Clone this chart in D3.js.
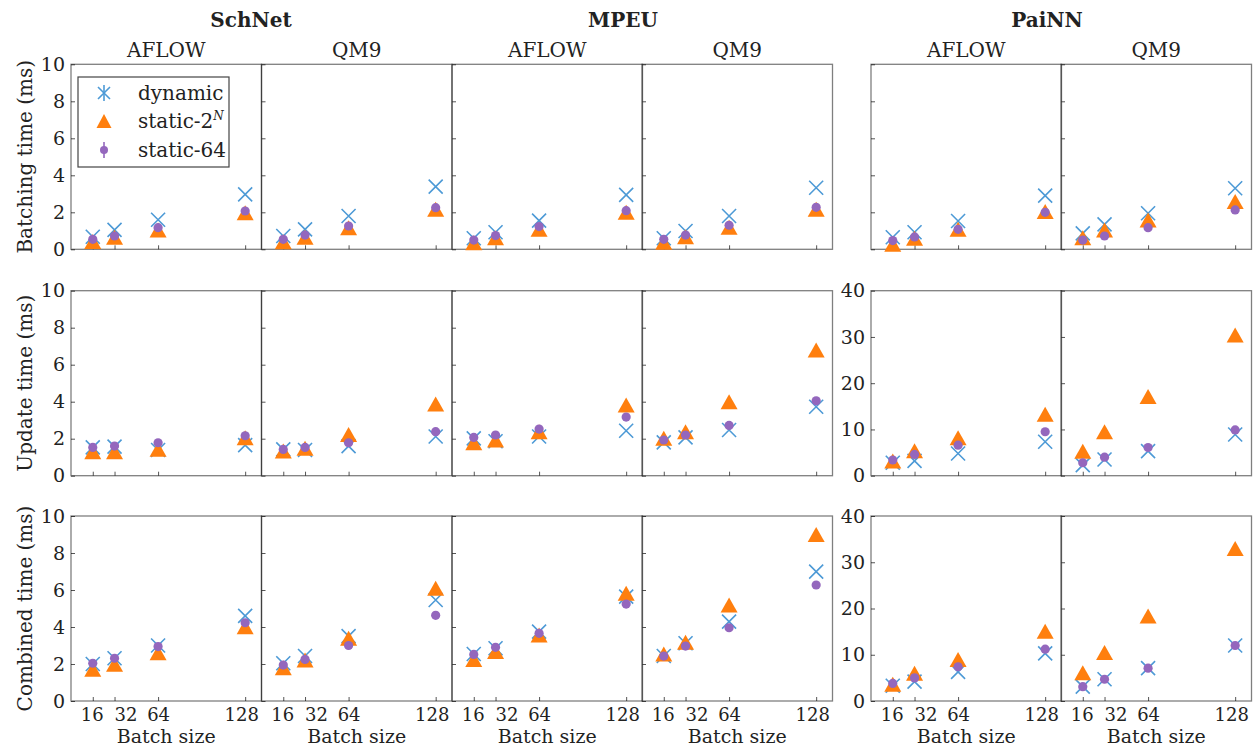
<!DOCTYPE html>
<html>
<head>
<meta charset="utf-8">
<script src="https://cdn.jsdelivr.net/npm/d3@7"></script>
<style>
  body { margin: 0; background: #fff; }
  svg text { font-family: "DejaVu Serif", serif; fill: #222; }
</style>
</head>
<body>
<div id="chart"></div>
<script>
// ---- data (panels in order: SchNet AFLOW, SchNet QM9, MPEU AFLOW, MPEU QM9, PaiNN AFLOW, PaiNN QM9)
const batchSizes = [16, 32, 64, 128];
const models = ["SchNet", "MPEU", "PaiNN"];
const datasets = ["AFLOW", "QM9"];
const rowLabels = ["Batching time (ms)", "Update time (ms)", "Combined time (ms)"];
const seriesNames = ["dynamic", "static-2N", "static-64"];

const batchingDynamic = [[0.68, 1.05, 1.6, 2.97], [0.72, 1.08, 1.8, 3.39], [0.6, 0.92, 1.55, 2.94], [0.6, 0.99, 1.8, 3.33], [0.65, 0.92, 1.53, 2.9], [0.86, 1.35, 1.95, 3.3]];
const batchingStatic2N = [[0.42, 0.65, 1.05, 1.98], [0.41, 0.65, 1.17, 2.16], [0.36, 0.63, 1.08, 2.0], [0.38, 0.68, 1.19, 2.16], [0.27, 0.6, 1.08, 2.04], [0.63, 1.05, 1.59, 2.58]];
const batchingStatic64 = [[0.54, 0.72, 1.17, 2.07], [0.54, 0.77, 1.26, 2.25], [0.5, 0.74, 1.23, 2.09], [0.54, 0.77, 1.3, 2.27], [0.47, 0.67, 1.08, 2.0], [0.5, 0.72, 1.17, 2.13]];

const updateDynamic = [[1.53, 1.57, 1.39, 1.65], [1.42, 1.39, 1.6, 2.12], [2.02, 1.86, 2.12, 2.43], [1.8, 2.07, 2.47, 3.73], [2.8, 3.2, 4.8, 7.35], [2.3, 3.5, 5.3, 8.9]];
const updateStatic2N = [[1.3, 1.3, 1.43, 2.05], [1.33, 1.48, 2.23, 3.87], [1.78, 1.93, 2.38, 3.82], [2.02, 2.38, 4.0, 6.79], [3.2, 5.4, 8.2, 13.3], [5.3, 9.5, 17.1, 30.4]];
const updateStatic64 = [[1.53, 1.6, 1.78, 2.16], [1.42, 1.53, 1.78, 2.38], [2.07, 2.2, 2.52, 3.17], [1.93, 2.2, 2.72, 4.05], [3.4, 4.6, 6.6, 9.5], [2.8, 4.0, 6.1, 9.9]];

const combinedDynamic = [[2.0, 2.31, 3.0, 4.6], [2.04, 2.43, 3.51, 5.46], [2.54, 2.85, 3.75, 5.64], [2.43, 3.12, 4.29, 6.99], [3.3, 4.2, 6.3, 10.3], [3.1, 4.7, 7.1, 12.0]];
const combinedStatic2N = [[1.71, 1.98, 2.61, 4.02], [1.8, 2.22, 3.39, 6.09], [2.25, 2.67, 3.57, 5.82], [2.54, 3.17, 5.19, 9.0], [3.6, 6.0, 9.0, 15.1], [6.1, 10.5, 18.4, 33.0]];
const combinedStatic64 = [[2.04, 2.31, 2.94, 4.23], [1.94, 2.25, 3.0, 4.63], [2.52, 2.9, 3.66, 5.24], [2.43, 2.97, 3.96, 6.27], [3.8, 5.0, 7.4, 11.2], [3.1, 4.7, 7.1, 12.0]];

const rowData = [
  [batchingDynamic, batchingStatic2N, batchingStatic64],
  [updateDynamic, updateStatic2N, updateStatic64],
  [combinedDynamic, combinedStatic2N, combinedStatic64]
];
const smallTicks = [0, 2, 4, 6, 8, 10];
const bigTicks = [0, 10, 20, 30, 40];

// ---- layout
const W = 1256, H = 748;
const colLeft = [71, 261.5, 452, 642, 871, 1061];
const panelW = 190.5;
const rowTop = [64.3, 290.7, 516];
const panelH = 185;
const fs = 20;      // labels, titles, legend
const tickFs = 19;  // y tick labels
const xTickFs = 18; // x tick labels
const colors = { dynamic: "#4d9ad6", tri: "#ff7f0e", circ: "#9467bd" };
const labelShift = { 16: -1, 32: 11, 64: 0, 128: -4 };

const svg = d3.select("#chart").append("svg")
  .attr("width", W)
  .attr("height", H);

const x = d3.scaleLinear().domain([0, 140]).range([0, panelW]);

function trianglePath(w, h) {
  return "M0," + (-h / 2) + "L" + (w / 2) + "," + (h / 2) + "L" + (-w / 2) + "," + (h / 2) + "Z";
}

function drawX(g, cx, cy, r) {
  g.append("path")
    .attr("d", "M" + (cx - r) + "," + (cy - r) + "L" + (cx + r) + "," + (cy + r) + "M" + (cx - r) + "," + (cy + r) + "L" + (cx + r) + "," + (cy - r))
    .attr("stroke", colors.dynamic)
    .attr("stroke-width", 1.6)
    .attr("fill", "none");
}

// ---- panels
rowData.forEach(function(series, r) {
  colLeft.forEach(function(left, c) {
    const big = c >= 4 && r > 0;
    const y = d3.scaleLinear().domain([0, big ? 40 : 10]).range([panelH, 0]);
    const showY = c === 0 || (c === 4 && big);
    const g = svg.append("g").attr("transform", "translate(" + left + "," + rowTop[r] + ")");

    // y axis, ticks point inward
    const ya = g.append("g")
      .call(d3.axisLeft(y)
        .tickValues(big ? bigTicks : smallTicks)
        .tickSizeInner(-4)
        .tickSizeOuter(0)
        .tickPadding(6)
        .tickFormat(showY ? d3.format("d") : ""));
    ya.select(".domain").remove();
    ya.selectAll("line").attr("stroke", "#555");
    ya.selectAll("text").attr("font-size", tickFs).attr("fill", "#222").attr("font-family", "DejaVu Serif");

    const xa = g.append("g")
      .attr("transform", "translate(0," + panelH + ")")
      .call(d3.axisBottom(x)
        .tickValues(batchSizes)
        .tickSizeInner(-4)
        .tickSizeOuter(0)
        .tickPadding(7)
        .tickFormat(r === 2 ? d3.format("d") : ""));
    xa.select(".domain").remove();
    xa.selectAll("line").attr("stroke", "#555");
    xa.selectAll("text")
      .attr("font-size", xTickFs).attr("fill", "#222").attr("font-family", "DejaVu Serif")
      .attr("dx", function(d) { return labelShift[d]; });

    // frame
    g.append("rect")
      .attr("width", panelW)
      .attr("height", panelH)
      .attr("fill", "none")
      .attr("stroke", "rgba(0,0,0,0.5)")
      .attr("stroke-width", 1.3);

    // markers
    const dyn = series[0][c], tri = series[1][c], circ = series[2][c];
    batchSizes.forEach(function(b, i) {
      drawX(g, x(b), y(dyn[i]), 7);
    });
    g.selectAll(".tri").data(tri).enter().append("path")
      .attr("d", trianglePath(17, 15))
      .attr("transform", function(d, i) { return "translate(" + x(batchSizes[i]) + "," + y(d) + ")"; })
      .attr("fill", colors.tri);
    g.selectAll(".circ").data(circ).enter().append("circle")
      .attr("cx", function(d, i) { return x(batchSizes[i]); })
      .attr("cy", function(d) { return y(d); })
      .attr("r", 4.6)
      .attr("fill", colors.circ);

    if (r === 0) {
      g.append("text")
        .attr("x", panelW / 2).attr("y", -7)
        .attr("text-anchor", "middle")
        .attr("font-size", fs)
        .text(datasets[c % 2]);
    }
    if (r === 2) {
      g.append("text")
        .attr("x", panelW / 2).attr("y", panelH + 42)
        .attr("text-anchor", "middle")
        .attr("font-size", 19)
        .text("Batch size");
    }
  });

  svg.append("text")
    .attr("transform", "translate(32," + (rowTop[r] + panelH / 2) + ") rotate(-90)")
    .attr("text-anchor", "middle")
    .attr("font-size", fs)
    .text(rowLabels[r]);
});

// model titles
const titleX = [251, 623, 1047];
models.forEach(function(m, i) {
  svg.append("text")
    .attr("x", titleX[i]).attr("y", 27)
    .attr("text-anchor", "middle")
    .attr("font-size", fs)
    .attr("font-weight", "bold")
    .text(m);
});

// ---- legend
const lg = svg.append("g").attr("transform", "translate(78,77)");
lg.append("rect")
  .attr("width", 151).attr("height", 90)
  .attr("fill", "#fff")
  .attr("stroke", "#444")
  .attr("stroke-width", 1.2);
const rowsY = [16, 44, 73];
// dynamic: x with error bar
drawX(lg, 26, rowsY[0], 6);
lg.append("line").attr("x1", 26).attr("x2", 26).attr("y1", rowsY[0] - 8).attr("y2", rowsY[0] + 8)
  .attr("stroke", colors.dynamic).attr("stroke-width", 1.6);
lg.append("path").attr("d", trianglePath(15, 14))
  .attr("transform", "translate(26," + rowsY[1] + ")")
  .attr("fill", colors.tri);
lg.append("line").attr("x1", 26).attr("x2", 26).attr("y1", rowsY[2] - 8).attr("y2", rowsY[2] + 8)
  .attr("stroke", colors.circ).attr("stroke-width", 1.6);
lg.append("circle").attr("cx", 26).attr("cy", rowsY[2]).attr("r", 4).attr("fill", colors.circ);

lg.append("text").attr("x", 60).attr("y", rowsY[0] + 7).attr("font-size", fs).text(seriesNames[0]);
const t2 = lg.append("text").attr("x", 60).attr("y", rowsY[1] + 7).attr("font-size", fs);
t2.append("tspan").text("static-2");
t2.append("tspan").attr("font-size", 12).attr("font-style", "italic").attr("dy", -8).text("N");
lg.append("text").attr("x", 60).attr("y", rowsY[2] + 7).attr("font-size", fs).text(seriesNames[2]);
</script>
</body>
</html>
